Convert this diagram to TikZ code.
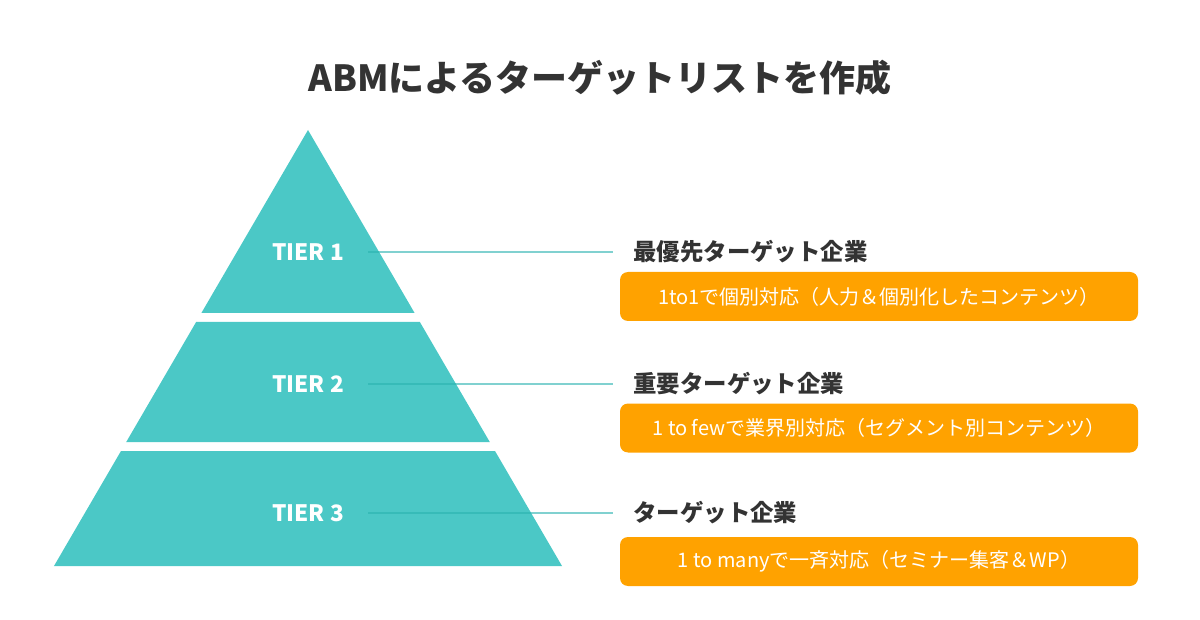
\documentclass[tikz,border=0pt]{standalone}
\usepackage{fontspec}
\setmainfont{Noto Sans CJK JP}
\definecolor{pyrteal}{HTML}{4BC8C6}
\definecolor{lineteal}{HTML}{2BB3B0}
\definecolor{boxorange}{HTML}{FFA200}
\definecolor{titlegray}{HTML}{333333}
\tikzset{
	tierlabel/.style={font=\fontsize{11.3}{14}\selectfont\bfseries, text=white, inner sep=0pt},
	heading/.style={font=\fontsize{11.7}{14}\selectfont\bfseries, text=titlegray, anchor=west, inner sep=0pt},
	infobox/.style={fill=boxorange, rounded corners=4pt, minimum width=259pt, minimum height=24.5pt, inner sep=0pt, text=white, font=\fontsize{10}{12}\selectfont},
	tierline/.style={draw=lineteal, draw opacity=0.6, line width=0.6pt, shorten <=12pt, shorten >=10pt}
}
\begin{document}
\begin{tikzpicture}[x=0.5pt,y=-0.5pt]
	\useasboundingbox (0,0) rectangle (1200,620);
	\node (title) at (600,78) [font=\fontsize{18}{22}\selectfont\bfseries, text=titlegray, inner sep=0pt] {ABMによるターゲットリストを作成};
	% pyramid, three slices
	\fill[pyrteal] (308,130) -- ({308+0.5826*183},313) -- ({308-0.5826*183},313) -- cycle;
	\foreach \t/\b in {322/442, 451/566} {
		\fill[pyrteal] ({308-0.5826*(\t-130)},\t) -- ({308+0.5826*(\t-130)},\t)
			-- ({308+0.5826*(\b-130)},\b) -- ({308-0.5826*(\b-130)},\b) -- cycle;
	}
	\node (t1) at (308,252) [tierlabel] {TIER 1};
	\node (t2) at (308,384) [tierlabel] {TIER 2};
	\node (t3) at (308,513) [tierlabel] {TIER 3};
	\node (h1) at (633,252) [heading] {最優先ターゲット企業};
	\node (h2) at (633,384) [heading] {重要ターゲット企業};
	\node (h3) at (633,513) [heading] {ターゲット企業};
	\node (b1) at (879,296.5) [infobox] {1to1で個別対応（人力＆個別化したコンテンツ）};
	\node (b2) at (879,428) [infobox] {1 to fewで業界別対応（セグメント別コンテンツ）};
	\node (b3) at (879,561.5) [infobox] {1 to manyで一斉対応（セミナー集客＆WP）};
	\foreach \i in {1,2,3} {
		\draw[tierline] (t\i.east) -- (h\i.west);
	}
\end{tikzpicture}
\end{document}
